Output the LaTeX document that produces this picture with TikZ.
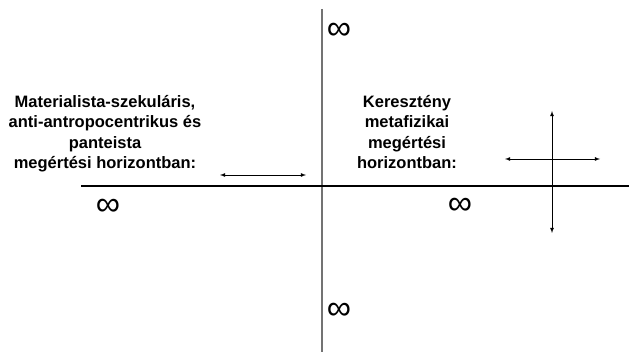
\documentclass[tikz,border=0pt]{standalone}
\usepackage{fontspec}
\setmainfont{Liberation Sans}
\tikzset{
  label text/.style={font=\bfseries\fontsize{16.5}{20.5}\selectfont, align=center, inner sep=0pt, anchor=north},
  inf/.style={font=\fontsize{34}{34}\selectfont, inner sep=0pt},
  axis/.style={line width=1.6pt, black!55},
  dir/.style={line width=0.8pt, <->, >=latex}
}
\begin{document}
\begin{tikzpicture}[x=1pt,y=-1pt]
\useasboundingbox (0,0) rectangle (629,352);

\coordinate (top) at (322,9);
\coordinate (bot) at (322,352);
\coordinate (west) at (81,186);
\coordinate (east) at (629,186);
\draw[axis] (top) -- (bot);
\draw[line width=1.1pt] (west) -- (east);

\node[label text](mat) at (105,95) {Materialista-szekuláris,\\anti-antropocentrikus és\\panteista\\megértési horizontban:};
\node[label text](ker) at (407,95) {Keresztény\\metafizikai\\megértési\\horizontban:};

\coordinate (la) at (220,175);
\coordinate (lb) at (306,175);
\draw[dir] (la) -- (lb);

\coordinate (cw) at (505,159);
\coordinate (ce) at (600,159);
\coordinate (cn) at (552,111);
\coordinate (cs) at (552,233);
\draw[dir] (cw) -- (ce);
\draw[dir] (cn) -- (cs);

\node[inf](i1) at (339,31) {∞};
\node[inf](i2) at (108,207) {∞};
\node[inf](i3) at (460,206) {∞};
\node[inf](i4) at (339,311) {∞};
\end{tikzpicture}
\end{document}
